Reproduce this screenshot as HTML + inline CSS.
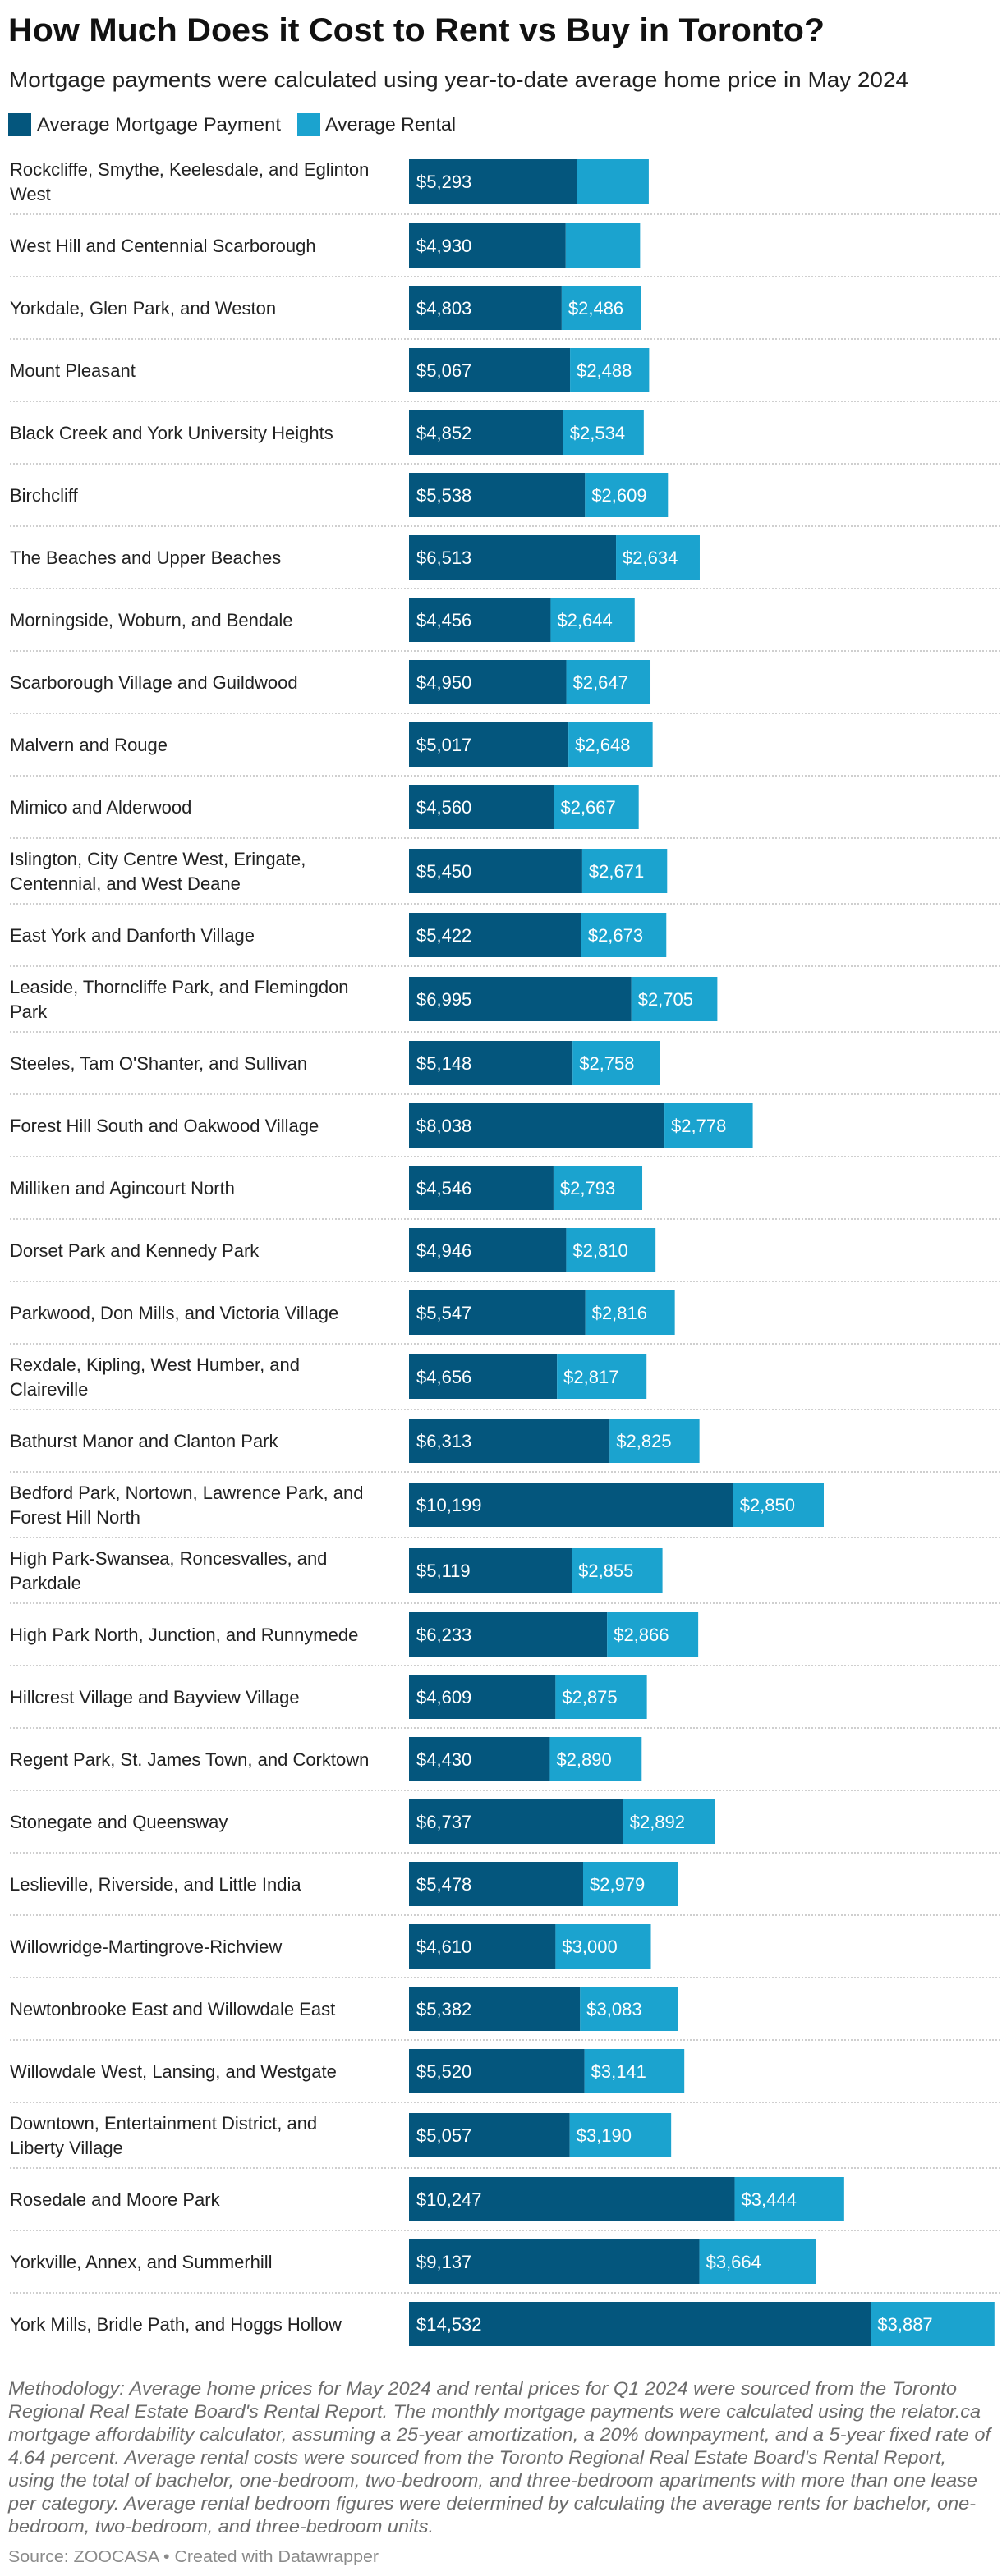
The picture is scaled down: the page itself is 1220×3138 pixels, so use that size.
<!DOCTYPE html>
<html><head><meta charset="utf-8">
<style>
html,body{margin:0;padding:0;background:#fff;}
svg{display:block;}
text{font-family:"Liberation Sans",sans-serif;}
</style></head>
<body>
<svg id="chart" width="1220" height="3138" viewBox="0 0 1220 3138" xmlns="http://www.w3.org/2000/svg">
<rect width="1220" height="3138" fill="#fff"/>
<text x="10" y="50" font-size="40" font-weight="bold" fill="#111" textLength="994" lengthAdjust="spacingAndGlyphs">How Much Does it Cost to Rent vs Buy in Toronto?</text>
<text x="11" y="106" font-size="26" fill="#222" textLength="1095" lengthAdjust="spacingAndGlyphs">Mortgage payments were calculated using year-to-date average home price in May 2024</text>
<g>
<rect x="10" y="138" width="28" height="28" fill="#04567d"/>
<text x="45" y="159" font-size="22" fill="#222" textLength="297" lengthAdjust="spacingAndGlyphs">Average Mortgage Payment</text>
<rect x="362" y="138" width="28" height="28" fill="#1ba3cf"/>
<text x="396" y="159" font-size="22" fill="#222" textLength="159" lengthAdjust="spacingAndGlyphs">Average Rental</text>
</g>
<g id="rows"></g>
<g font-size="22" font-style="italic" fill="#6b6b6b">
<text x="10" y="2917" textLength="1155" lengthAdjust="spacingAndGlyphs">Methodology: Average home prices for May 2024 and rental prices for Q1 2024 were sourced from the Toronto</text>
<text x="10" y="2945" textLength="1184" lengthAdjust="spacingAndGlyphs">Regional Real Estate Board's Rental Report. The monthly mortgage payments were calculated using the relator.ca</text>
<text x="10" y="2973" textLength="1196" lengthAdjust="spacingAndGlyphs">mortgage affordability calculator, assuming a 25-year amortization, a 20% downpayment, and a 5-year fixed rate of</text>
<text x="10" y="3001" textLength="1142" lengthAdjust="spacingAndGlyphs">4.64 percent. Average rental costs were sourced from the Toronto Regional Real Estate Board's Rental Report,</text>
<text x="10" y="3029" textLength="1180" lengthAdjust="spacingAndGlyphs">using the total of bachelor, one-bedroom, two-bedroom, and three-bedroom apartments with more than one lease</text>
<text x="10" y="3057" textLength="1178" lengthAdjust="spacingAndGlyphs">per category. Average rental bedroom figures were determined by calculating the average rents for bachelor, one-</text>
<text x="10" y="3085" textLength="518" lengthAdjust="spacingAndGlyphs">bedroom, two-bedroom, and three-bedroom units.</text>
</g>
<text x="10" y="3121" font-size="20" fill="#8a8a8a" textLength="451" lengthAdjust="spacingAndGlyphs">Source: ZOOCASA • Created with Datawrapper</text>
</svg>
<script>
const categories = [
 ["Rockcliffe, Smythe, Keelesdale, and Eglinton","West"],
 ["West Hill and Centennial Scarborough"],
 ["Yorkdale, Glen Park, and Weston"],
 ["Mount Pleasant"],
 ["Black Creek and York University Heights"],
 ["Birchcliff"],
 ["The Beaches and Upper Beaches"],
 ["Morningside, Woburn, and Bendale"],
 ["Scarborough Village and Guildwood"],
 ["Malvern and Rouge"],
 ["Mimico and Alderwood"],
 ["Islington, City Centre West, Eringate,","Centennial, and West Deane"],
 ["East York and Danforth Village"],
 ["Leaside, Thorncliffe Park, and Flemingdon","Park"],
 ["Steeles, Tam O'Shanter, and Sullivan"],
 ["Forest Hill South and Oakwood Village"],
 ["Milliken and Agincourt North"],
 ["Dorset Park and Kennedy Park"],
 ["Parkwood, Don Mills, and Victoria Village"],
 ["Rexdale, Kipling, West Humber, and","Claireville"],
 ["Bathurst Manor and Clanton Park"],
 ["Bedford Park, Nortown, Lawrence Park, and","Forest Hill North"],
 ["High Park-Swansea, Roncesvalles, and","Parkdale"],
 ["High Park North, Junction, and Runnymede"],
 ["Hillcrest Village and Bayview Village"],
 ["Regent Park, St. James Town, and Corktown"],
 ["Stonegate and Queensway"],
 ["Leslieville, Riverside, and Little India"],
 ["Willowridge-Martingrove-Richview"],
 ["Newtonbrooke East and Willowdale East"],
 ["Willowdale West, Lansing, and Westgate"],
 ["Downtown, Entertainment District, and","Liberty Village"],
 ["Rosedale and Moore Park"],
 ["Yorkville, Annex, and Summerhill"],
 ["York Mills, Bridle Path, and Hoggs Hollow"]
];
const mortgage = [5293,4930,4803,5067,4852,5538,6513,4456,4950,5017,4560,5450,5422,6995,5148,8038,4546,4946,5547,4656,6313,10199,5119,6233,4609,4430,6737,5478,4610,5382,5520,5057,10247,9137,14532];
const rental = [2250,2340,2486,2488,2534,2609,2634,2644,2647,2648,2667,2671,2673,2705,2758,2778,2793,2810,2816,2817,2825,2850,2855,2866,2875,2890,2892,2979,3000,3083,3141,3190,3444,3664,3887];

const NS = "http://www.w3.org/2000/svg";
const rowsGroup = document.getElementById('rows');
const X0 = 498, SCALE = 0.0387, BAR_H = 54;
const xPos = v => X0 + v * SCALE;
const fmt = v => "$" + v.toLocaleString("en-US");
function mk(tag, attrs){const e=document.createElementNS(NS,tag);for(const k in attrs)e.setAttribute(k,attrs[k]);return e;}
let rowTop = 181;
categories.forEach((lines, i) => {
  const h = lines.length > 1 ? 80 : 76;
  if (i === 0) rowTop = 181 + (lines.length > 1 ? 0 : 2);
  const row = mk('g', {});
  
  
  const cy = rowTop + h / 2;
  const by = cy - BAR_H / 2;
  const lab = mk('text', {x: 12, 'font-size': 22, fill: '#222'});
  
  
  if (lines.length === 1) {
    lab.setAttribute('y', cy + 8);
    lab.textContent = lines[0];
  } else {
    lines.forEach((ln, j) => {
      const ts = mk('tspan', {x: 12, y: cy - 7 + j * 30});
      ts.textContent = ln;
      lab.appendChild(ts);
    });
  }
  row.appendChild(lab);
  const m = mortgage[i], r = rental[i];
  const b1 = mk('rect', {x: X0, y: by, width: xPos(m) - X0, height: BAR_H, fill: '#04567d'});
  
  
  row.appendChild(b1);
  const b2 = mk('rect', {x: xPos(m), y: by, width: xPos(m + r) - xPos(m), height: BAR_H, fill: '#1ba3cf'});
  
  
  row.appendChild(b2);
  const t1 = mk('text', {x: X0 + 9, y: cy + 8, 'font-size': 22, fill: '#fff'});
  
  
  t1.textContent = fmt(m);
  row.appendChild(t1);
  if (xPos(m + r) - xPos(m) > 94) {
    const t2 = mk('text', {x: xPos(m) + 8, y: cy + 8, 'font-size': 22, fill: '#fff'});
    
    
    t2.textContent = fmt(r);
    row.appendChild(t2);
  }
  if (i < categories.length - 1) {
    const sep = mk('line', {x1: 12, x2: 1220, y1: rowTop + h, y2: rowTop + h, stroke: '#cfcfcf', 'stroke-width': 2, 'stroke-dasharray': '2 2'});
    
    
    row.appendChild(sep);
  }
  rowsGroup.appendChild(row);
  rowTop += h;
});
</script>
</body></html>
